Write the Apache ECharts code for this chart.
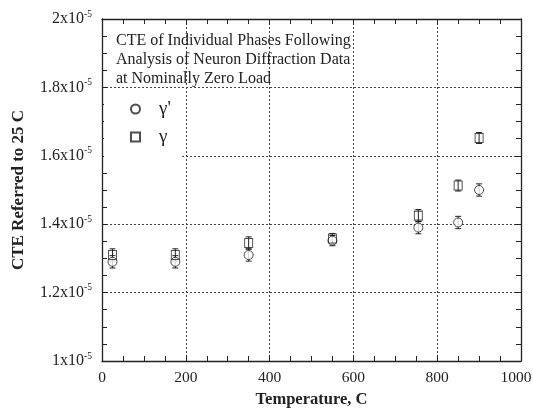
<!DOCTYPE html>
<html><head><meta charset="utf-8">
<script src="https://cdn.jsdelivr.net/npm/echarts@6/dist/echarts.min.js"></script>
<style>html,body{margin:0;padding:0;background:#fff}#c{width:533px;height:410px}</style>
</head><body><div id="c"></div>
<script>
// values in units of 1e-5 /C
var temps = [25, 175, 350, 550, 755, 850, 900];
var gammaPrime = [1.29, 1.29, 1.31, 1.352, 1.39, 1.405, 1.50];   // circles (γ')
var gammaPrimeErr = [0.018, 0.018, 0.018, 0.015, 0.018, 0.018, 0.018];
var gamma = [1.31, 1.31, 1.345, 1.358, 1.425, 1.513, 1.652];      // squares (γ)
var gammaErr = [0.018, 0.018, 0.018, 0.015, 0.018, 0.016, 0.016];
var yTicks = [1.0, 1.2, 1.4, 1.6, 1.8, 2.0];
var xTicks = [0, 200, 400, 600, 800, 1000];
var titleLines = ['CTE of Individual Phases Following', 'Analysis of Neuron Diffraction Data', 'at Nominally Zero Load'];

var serif = '"Liberation Serif", "DejaVu Serif", serif';
var chart = echarts.init(document.getElementById('c'));

function pts(ys) { return temps.map(function (t, i) { return [t, ys[i]]; }); }
function errs(ys, es) { return temps.map(function (t, i) { return [t, ys[i] - es[i], ys[i] + es[i]]; }); }

function errRender(params, api) {
  var x = api.value(0);
  var lo = api.coord([x, api.value(1)]);
  var hi = api.coord([x, api.value(2)]);
  var hw = 3;
  var st = { stroke: '#222', lineWidth: 1 };
  return {
    type: 'group',
    children: [
      { type: 'line', shape: { x1: lo[0], y1: lo[1], x2: hi[0], y2: hi[1] }, style: st },
      { type: 'line', shape: { x1: lo[0] - hw, y1: lo[1], x2: lo[0] + hw, y2: lo[1] }, style: st },
      { type: 'line', shape: { x1: hi[0] - hw, y1: hi[1], x2: hi[0] + hw, y2: hi[1] }, style: st }
    ]
  };
}

var splitDotted = { show: true, lineStyle: { type: [2, 2], color: '#444', width: 1 } };
function yLabel(v) {
  var s = (v === 1 || v === 2) ? String(v) : v.toFixed(1);
  return '{b|' + s + 'x10}{s|-5}';
}
var rich = {
  b: { fontFamily: serif, fontSize: 16, color: '#222', lineHeight: 20 },
  s: { fontFamily: serif, fontSize: 9.5, color: '#222', verticalAlign: 'top', lineHeight: 20, padding: [0, 0, 8, 0] }
};

function xAx(pos, interval, tickLen, extra) {
  return Object.assign({
    type: 'value', min: 0, max: 1000, interval: interval, position: pos,
    axisLine: { show: true, onZero: false, lineStyle: { color: '#222', width: 1.3 } },
    axisTick: { show: true, inside: true, length: tickLen, lineStyle: { color: '#222' } },
    axisLabel: { show: false }, splitLine: { show: false }
  }, extra || {});
}
function yAx(pos, interval, tickLen, extra) {
  return Object.assign({
    type: 'value', min: 1, max: 2, interval: interval, position: pos,
    axisLine: { show: true, onZero: false, lineStyle: { color: '#222', width: 1.3 } },
    axisTick: { show: true, inside: true, length: tickLen, lineStyle: { color: '#222' } },
    axisLabel: { show: false }, splitLine: { show: false }
  }, extra || {});
}
var noLine = { show: false, onZero: false };

chart.setOption({
  animation: false,
  backgroundColor: '#fff',
  title: {
    text: titleLines.join('\n'),
    left: 111, top: 26,
    textStyle: { fontFamily: serif, fontSize: 16, fontWeight: 'normal', color: '#222', lineHeight: 19 }
  },
  legend: {
    orient: 'vertical',
    left: 104, top: 90,
    backgroundColor: '#fff',
    padding: [9, 10, 16, 26],
    itemWidth: 9, itemHeight: 9, itemGap: 8,
    textStyle: { fontFamily: serif, fontSize: 19, color: '#222', padding: [0, 0, 0, 14], lineHeight: 20 },
    data: [
      { name: "γ'", icon: 'circle' },
      { name: 'γ', icon: 'rect' }
    ]
  },
  grid: { left: 102, right: 12, top: 19, bottom: 49, outerBoundsMode: 'none', containLabel: false },
  xAxis: [
    xAx('bottom', 200, 6, {
      name: 'Temperature, C', nameLocation: 'middle', nameGap: 28,
      nameTextStyle: { fontFamily: serif, fontSize: 16.5, fontWeight: 'bold', color: '#222' },
      axisLabel: { show: true, fontFamily: serif, fontSize: 15.5, color: '#222', margin: 9,
        formatter: function (v) { return v === 1000 ? '{e|1000}' : String(v); },
        rich: { e: { fontFamily: serif, fontSize: 15.5, color: '#222', padding: [0, 10, 0, 0] } } },
      splitLine: splitDotted
    }),
    xAx('top', 200, 6),
    xAx('bottom', 50, 5, { axisLine: noLine }),
    xAx('top', 50, 5, { axisLine: noLine })
  ],
  yAxis: [
    yAx('left', 0.2, 6, {
      name: 'CTE Referred to 25 C', nameLocation: 'middle', nameGap: 75,
      nameTextStyle: { fontFamily: serif, fontSize: 17, fontWeight: 'bold', color: '#222' },
      axisLabel: { show: true, margin: 10, formatter: function (v) {
        for (var i = 0; i < yTicks.length; i++) if (Math.abs(yTicks[i] - v) < 1e-6) return yLabel(yTicks[i]);
        return '';
      }, rich: rich },
      splitLine: splitDotted
    }),
    yAx('right', 0.2, 6),
    yAx('left', 0.05, 5, { axisLine: noLine }),
    yAx('right', 0.05, 5, { axisLine: noLine })
  ],
  series: [
    { type: 'custom', name: 'errGP', renderItem: errRender, data: errs(gammaPrime, gammaPrimeErr),
      xAxisIndex: 0, yAxisIndex: 0, z: 3, encode: { x: 0, y: [1, 2] }, silent: true },
    { type: 'custom', name: 'errG', renderItem: errRender, data: errs(gamma, gammaErr),
      xAxisIndex: 0, yAxisIndex: 0, z: 3, encode: { x: 0, y: [1, 2] }, silent: true },
    { type: 'scatter', name: "γ'", symbol: 'circle', symbolSize: 9, data: pts(gammaPrime), z: 4,
      xAxisIndex: 0, yAxisIndex: 0,
      itemStyle: { color: '#fff', borderColor: '#222', borderWidth: 1 } },
    { type: 'scatter', name: 'γ', symbol: 'rect', symbolSize: [8, 9], data: pts(gamma), z: 5,
      xAxisIndex: 0, yAxisIndex: 0,
      itemStyle: { color: 'rgba(255,255,255,0)', borderColor: '#222', borderWidth: 1 } }
  ]
});
</script></body></html>
